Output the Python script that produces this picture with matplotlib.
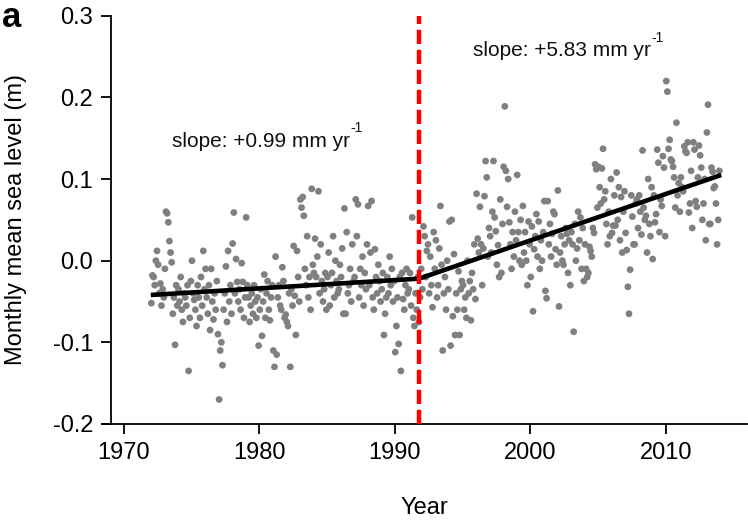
import numpy as np
import matplotlib
matplotlib.use("Agg")
import matplotlib.pyplot as plt

plt.rcParams['font.family'] = ['Liberation Sans', 'DejaVu Sans']
plt.rcParams['axes.unicode_minus'] = False

start_year = 1972
# monthly mean sea level, mm, one row per year (Jan..Dec)
sea_level_mm = [
    [-52, -18, -20, -30, 0, 12, -5, -40, -28, -55, -35, -45],          # 1972
    [-10, 60, 58, 47, 24, 10, -2, -65, -45, -103, -30, -55],           # 1973
    [-35, -50, -20, -60, -75, -40, -45, -55, -30, -135, -70, -25],     # 1974
    [0, -40, -48, -60, -80, -30, -45, -70, -20, -55, 12, -35],         # 1975
    [-10, -45, -65, -30, -85, -10, -50, -72, -40, -60, -25, -90],      # 1976
    [-170, -110, -100, -128, -60, -40, -7, -75, 12, -50, -30, -65],    # 1977
    [21, 59, -40, 2, -26, -50, -35, -60, -3, -26, -70, -45],           # 1978
    [53, -30, -45, -75, -55, -40, -65, -30, -50, -70, -45, -104],      # 1979
    [-60, -35, -92, -50, -17, -70, -40, -25, -60, -73, -45, -30],      # 1980
    [-110, -130, 5, -115, -45, -30, -55, -60, -8, -25, -70, -66],      # 1981
    [-75, -80, -40, -130, -35, -55, 18, -43, -91, 12, -20, -50],       # 1982
    [75, 65, 78, 55, -10, -30, 30, -45, -20, -60, 88, -5],             # 1983
    [-15, 27, -20, 5, 85, -40, 20, -25, -50, -35, -15, -60],           # 1984
    [-20, 10, -55, -30, -15, 30, -45, 0, -25, -40, -35, -5],           # 1985
    [-20, 15, -65, 64, -65, 35, -40, -30, -10, -50, 20, -25],          # 1986
    [-20, 75, 30, 69, -45, -10, -30, 5, -55, -15, -35, 20],            # 1987
    [67, -30, 10, 73, -45, -60, 14, -20, -40, -5, -25, -50],           # 1988
    [-35, -15, -91, -65, -45, -20, -40, 5, -30, -10, -50, -25],        # 1989
    [-112, -80, -45, -102, -20, -135, -15, -47, -60, -30, -10, -40],   # 1990
    [-35, -15, -55, 53, -70, -80, -40, -60, -20, -75, -45, -10],       # 1991
    [-35, 42, 30, -20, 12, 20, -40, 5, -30, -57, 35, -10],             # 1992
    [25, -45, -30, 15, 67, -5, -110, -40, -20, -60, 0, -35],           # 1993
    [48, -104, 50, -68, 8, -91, -40, -60, -13, -91, -35, -25],         # 1994
    [-30, -60, -45, -70, 0, -40, -25, -73, -15, -35, 20, -47],         # 1995
    [82, 27, 10, 66, 20, -30, 15, 79, 122, 102, 5, 40],                # 1996
    [30, 10, 60, 122, 53, 36, -5, 19, -20, 75, -15, 45],               # 1997
    [115, 189, 110, 66, 100, 47, 20, -10, 35, 5, 60, 25],              # 1998
    [105, 35, 0, 50, -5, 67, 10, 35, 0, -30, 48, 20],                  # 1999
    [-20, 42, -62, 14, 30, 57, 5, 48, -10, 25, 0, 35],                 # 2000
    [73, -37, -46, 73, 20, 45, 5, 33, 60, 57, 14, -5],                 # 2001
    [86, -56, 10, 30, 0, -5, 20, 40, 33, -15, 25, -30],                # 2002
    [35, 20, -87, 45, 0, 15, 60, 25, 53, -10, 40, -25],                # 2003
    [20, -10, -20, -15, 17, 12, 5, 40, 34, 118, 112, 65],              # 2004
    [115, 90, 70, 113, 137, 75, 85, 45, 20, 60, 30, 100],              # 2005
    [34, 43, 80, 43, 108, 50, 90, 25, 78, 10, 60, 85],                 # 2006
    [34, 13, -32, -65, -11, 80, 54, 20, 20, 70, 75, 40],               # 2007
    [80, 60, 32, 135, 65, 50, 55, 10, 100, 45, 30, 90],                # 2008
    [2, 80, 47, 57, 136, 120, 35, 75, 67, 128, 114, 30],               # 2009
    [220, 207, 137, 148, 124, 122, 115, 102, 65, 169, 80, 95],         # 2010
    [60, 102, 90, 85, 140, 134, 132, 145, 59, 70, 110, 40],            # 2011
    [145, 136, 73, 66, 102, 141, 129, 114, 50, 70, 100, 25],           # 2012
    [157, 191, 45, 45, 114, 109, 89, 91, 70, 20, 50, 110],             # 2013
]

# piecewise linear fit (breakpoints)
fit_years = [1972.0, 1991.8, 2014.1]
fit_values = [-0.042, -0.022, 0.105]
break_year = 1991.8

slope_labels = ['slope: +0.99 mm yr', 'slope: +5.83 mm yr']
slope_sup = '-1'
slope_pos = [(1973.6, 0.146), (1995.8, 0.257)]

xticks = [1970, 1980, 1990, 2000, 2010]
yticks = [-0.2, -0.1, 0.0, 0.1, 0.2, 0.3]

values = np.array(sea_level_mm, dtype=float).ravel() / 1000.0
times = start_year + (np.arange(values.size) + 0.5) / 12.0

fig = plt.figure(figsize=(7.48, 5.2), dpi=100)
ax = fig.add_axes([102/748, 96/520, (747-102)/748, (424-15.7)/520])

ax.scatter(times, values, s=24, marker='o', color='#808080', edgecolors='none', zorder=2)
ax.plot(fit_years, fit_values, color='black', lw=3.3, solid_capstyle='butt', zorder=3)
ax.axvline(break_year, color='#ff0000', lw=3.2, dashes=(3.2, 1.3), zorder=4)

for lab, (x, y) in zip(slope_labels, slope_pos):
    t = ax.text(x, y, lab, fontsize=15, ha='left', va='center', color='#111111')
    ax.annotate(slope_sup, xy=(1.0, 0.82), xycoords=t, fontsize=10,
                ha='left', va='bottom', color='#111111')

ax.set_xlim(1968.4, 2016.0)
ax.set_ylim(-0.2, 0.3)
ax.set_xticks(xticks)
ax.set_yticks(yticks)
ax.set_yticklabels(['%.1f' % v for v in yticks])
ax.spines['top'].set_visible(False)
ax.spines['right'].set_visible(False)
ax.spines['left'].set_position(('data', 1969.07))
for sp in ('left', 'bottom'):
    ax.spines[sp].set_linewidth(1.3)
ax.tick_params(direction='out', length=7, width=1.3, labelsize=17, pad=6)

ax.set_xlabel('Year', fontsize=17, labelpad=24)
fig.text(0.022, (96 + (424-15.7)/2) / 520, 'Monthly mean sea level (m)', rotation=90,
         fontsize=17, ha='center', va='center')
fig.text(0.003, 0.998, 'a', fontsize=25, fontweight='bold', ha='left', va='top')

fig.savefig('out.png', dpi=100)
